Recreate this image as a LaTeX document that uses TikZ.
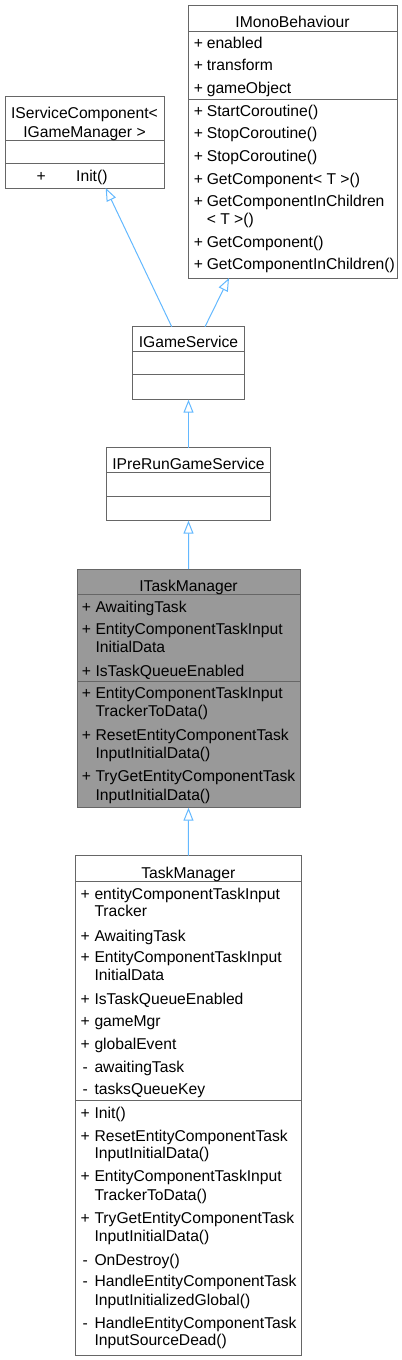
\documentclass[tikz,border=0pt]{standalone}
\usepackage{fontspec}
\setmainfont{Liberation Sans}
\usetikzlibrary{arrows.meta,fit,calc}
\definecolor{boxline}{HTML}{666666}
\definecolor{edgeblue}{HTML}{63B8FF}
\definecolor{curfill}{HTML}{999999}
\begin{document}
\begin{tikzpicture}[x=0.75pt,y=-0.75pt,
    every node/.style={inner sep=0pt,outer sep=0pt,font=\fontsize{11.75}{14}\selectfont},
    classbox/.style={draw=boxline,line width=0.75pt,fill=white},
    sepline/.style={draw=boxline,line width=0.75pt},
    title/.style={anchor=base},
    vis/.style={anchor=base},
    member/.style={anchor=base west},
    inherit/.style={draw=edgeblue,line width=0.75pt,-{Triangle[open,length=9.75pt,width=7.5pt]}}]
    \useasboundingbox (0,0) rectangle (402,1360);

    % IServiceComponent< IGameManager >
    \node[classbox,fit={(5,96) (164,188)}] (isc) {};
    \draw[sepline] (isc.west |- 0,140) -- (isc.east |- 0,140);
    \draw[sepline] (isc.west |- 0,163) -- (isc.east |- 0,163);
    \node[title] (isc-t1) at (isc.north |- 0,118.5) {IServiceComponent<};
    \node[title] (isc-t2) at (isc.north |- 0,137) {IGameManager >};
    \node[vis] (isc-v1) at (41.2,181) {+};
    \node[member] (isc-n1) at (76.2,181) {Init()};

    % IMonoBehaviour
    \node[classbox,fit={(188,5) (397,278)}] (imono) {};
    \draw[sepline] (imono.west |- 0,31) -- (imono.east |- 0,31);
    \draw[sepline] (imono.west |- 0,99) -- (imono.east |- 0,99);
    \node[title] (imono-t) at (imono.north |- 0,27) {IMonoBehaviour};
    \foreach \y/\s/\t [count=\i] in {48/+/enabled, 70/+/transform, 93/+/gameObject,
        116/+/StartCoroutine(), 138/+/StopCoroutine(), 161/+/StopCoroutine(),
        184/+/GetComponent< T >(), 206/+/GetComponentInChildren, 224.5//< T >(),
        247/+/GetComponent(), 269/+/GetComponentInChildren()} {
        \node[vis] (imono-v\i) at (198.5,\y) {\s};
        \node[member] (imono-n\i) at (206.8,\y) {\t};
    }

    % IGameService
    \node[classbox,fit={(132.7,326.7) (244.3,399.7)}] (igs) {};
    \draw[sepline] (igs.west |- 0,351) -- (igs.east |- 0,351);
    \draw[sepline] (igs.west |- 0,374.7) -- (igs.east |- 0,374.7);
    \node[title] (igs-t) at (igs.north |- 0,347.5) {IGameService};

    % IPreRunGameService
    \node[classbox,fit={(106.3,447.7) (270.7,520.7)}] (iprs) {};
    \draw[sepline] (iprs.west |- 0,472.7) -- (iprs.east |- 0,472.7);
    \draw[sepline] (iprs.west |- 0,496) -- (iprs.east |- 0,496);
    \node[title] (iprs-t) at (iprs.north |- 0,469.5) {IPreRunGameService};

    % ITaskManager
    \node[classbox,fill=curfill,fit={(77,569) (300,807.7)}] (itm) {};
    \draw[sepline] (itm.west |- 0,594.3) -- (itm.east |- 0,594.3);
    \draw[sepline] (itm.west |- 0,681) -- (itm.east |- 0,681);
    \node[title] (itm-t) at (itm.north |- 0,591.5) {ITaskManager};
    \foreach \y/\s/\t [count=\i] in {612.7/+/AwaitingTask, 634/+/EntityComponentTaskInput,
        652.7//InitialData, 676.7/+/IsTaskQueueEnabled,
        698.3/+/EntityComponentTaskInput, 716.7//TrackerToData(),
        740/+/ResetEntityComponentTask, 758.3//InputInitialData(),
        781/+/TryGetEntityComponentTask, 800//InputInitialData()} {
        \node[vis] (itm-v\i) at (86.5,\y) {\s};
        \node[member] (itm-n\i) at (95.5,\y) {\t};
    }

    % TaskManager
    \node[classbox,fit={(75.7,855.7) (301,1355)}] (tm) {};
    \draw[sepline] (tm.west |- 0,881.7) -- (tm.east |- 0,881.7);
    \draw[sepline] (tm.west |- 0,1100) -- (tm.east |- 0,1100);
    \node[title] (tm-t) at (tm.north |- 0,878.5) {TaskManager};
    \foreach \y/\s/\t [count=\i] in {899/+/entityComponentTaskInput, 916.7//Tracker,
        941/+/AwaitingTask, 962.3/+/EntityComponentTaskInput, 980.3//InitialData,
        1004/+/IsTaskQueueEnabled, 1026.7/+/gameMgr, 1049/+/globalEvent,
        1072.3/-/awaitingTask, 1094.3/-/tasksQueueKey,
        1118.3/+/Init(), 1141/+/ResetEntityComponentTask, 1158.3//InputInitialData(),
        1181.7/+/EntityComponentTaskInput, 1200//TrackerToData(),
        1223.3/+/TryGetEntityComponentTask, 1241//InputInitialData(),
        1265/-/OnDestroy(), 1286.7/-/HandleEntityComponentTask,
        1305//InputInitializedGlobal(), 1328.3/-/HandleEntityComponentTask,
        1345.7//InputSourceDead()} {
        \node[vis] (tm-v\i) at (85.3,\y) {\s};
        \node[member] (tm-n\i) at (94.5,\y) {\t};
    }

    % inheritance
    \draw[inherit] ($(igs.north)+(-16.8,0)$) -- ($(isc.south)+(21.2,0)$);
    \draw[inherit] ($(igs.north)+(16.5,0)$) -- ($(imono.south)+(-63.5,0)$);
    \draw[inherit] (iprs.north) -- (igs.south);
    \draw[inherit] (itm.north) -- (iprs.south);
    \draw[inherit] (tm.north) -- (itm.south);
\end{tikzpicture}
\end{document}
